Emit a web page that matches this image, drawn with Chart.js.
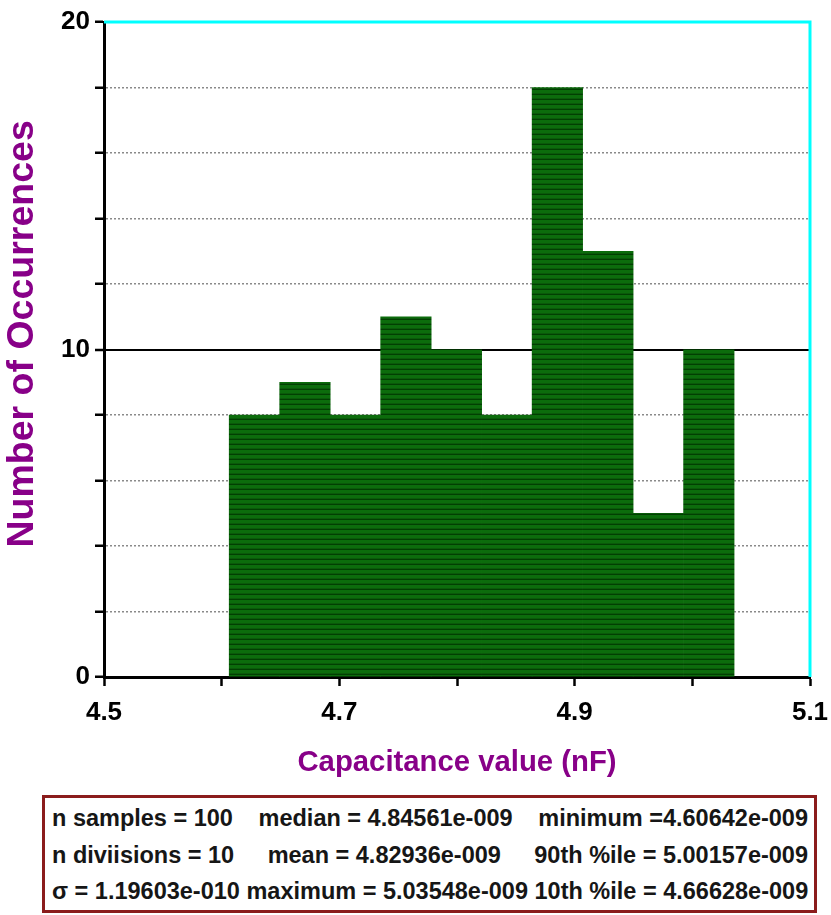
<!DOCTYPE html>
<html>
<head>
<meta charset="utf-8">
<script src="https://cdn.jsdelivr.net/npm/chart.js@4.4.1/dist/chart.umd.min.js"></script>
<style>
  body { margin: 0; background: #ffffff; }
  #wrap { position: relative; width: 831px; height: 915px; }
  #histChart { position: absolute; left: 0; top: 0; }
  #stats {
    position: absolute; left: 42px; top: 795px; width: 756px; height: 112px;
    border: 3px solid #8b1c1c; box-sizing: content-box;
    font-family: "Liberation Sans", Arial, sans-serif; font-weight: bold; font-size: 23.5px;
    color: #161616; padding: 0 6px 0 7px;
  }
  .row { display: flex; justify-content: space-between; white-space: pre; height: 36.5px; line-height: 36.5px; }
  .row:first-child { margin-top: 2px; }
</style>
</head>
<body>
<div id="wrap">
  <canvas id="histChart" width="831" height="790"></canvas>
  <div id="stats">
    <div class="row"><span>n samples = 100</span><span>median = 4.84561e-009</span><span>minimum =4.60642e-009</span></div>
    <div class="row"><span>n diviisions = 10</span><span>mean = 4.82936e-009</span><span>90th %ile = 5.00157e-009</span></div>
    <div class="row"><span>σ = 1.19603e-010 maximum = 5.03548e-009 10th %ile = 4.66628e-009</span></div>
  </div>
</div>
<script>
// ヒストグラムのデータ
var minValue = 4.60642;   // nF
var maxValue = 5.03548;   // nF
var nDivisions = 10;
var counts = [8, 9, 8, 11, 10, 8, 18, 13, 5, 10];
var xTickLabels = ['4.5', '4.7', '4.9', '5.1'];
var yTickLabels = ['0', '10', '20'];

// 各ビンの中心
var binWidth = (maxValue - minValue) / nDivisions;
var histData = [];
for (var i = 0; i < counts.length; i++) {
    histData.push({ x: minValue + (i + 0.5) * binWidth, y: counts[i] });
}

// バーの横縞模様
function makeStripe() {
    var c = document.createElement('canvas');
    c.width = 4;
    c.height = 5;
    var g = c.getContext('2d');
    g.fillStyle = '#0c6c0c';
    g.fillRect(0, 0, 4, 5);
    g.fillStyle = '#023f02';
    g.fillRect(0, 4, 4, 1);
    g.fillStyle = '#0a5a0a';
    g.fillRect(0, 3, 4, 1);
    return document.getElementById('histChart').getContext('2d').createPattern(c, 'repeat');
}

// 上と右の枠線
var framePlugin = {
    id: 'frame',
    afterDraw: function (chart) {
        var a = chart.chartArea;
        var ctx = chart.ctx;
        ctx.save();
        ctx.strokeStyle = '#00ffff';
        ctx.lineWidth = 3;
        ctx.beginPath();
        ctx.moveTo(a.left, a.top);
        ctx.lineTo(a.right, a.top);
        ctx.lineTo(a.right, a.bottom);
        ctx.stroke();
        ctx.restore();
    }
};

var purple = '#880088';
var fontFamily = '"Liberation Sans", Arial, sans-serif';

var config = {
    type: 'bar',
    data: {
        datasets: [{
            data: histData,
            backgroundColor: makeStripe(),
            borderWidth: 0,
            barPercentage: 1,
            categoryPercentage: 1,
            grouped: false
        }]
    },
    options: {
        responsive: false,
        animation: false,
        devicePixelRatio: 1,
        layout: { padding: { top: 22, right: 21, left: 0, bottom: 0 } },
        plugins: {
            legend: { display: false },
            tooltip: { enabled: false }
        },
        scales: {
            x: {
                type: 'linear',
                min: 4.5,
                max: 5.1,
                offset: false,
                afterFit: function (scale) {
                    scale.height = 790 - 677;
                    scale.paddingLeft = 0;
                    scale.paddingRight = 0;
                },
                ticks: {
                    stepSize: 0.1,
                    padding: 11,
                    color: '#000000',
                    font: { family: fontFamily, size: 26, weight: 'bold' },
                    maxRotation: 0,
                    autoSkip: false,
                    callback: function (v) {
                        var s = v.toFixed(1);
                        return xTickLabels.indexOf(s) >= 0 ? s : '';
                    }
                },
                grid: {
                    offset: false,
                    drawOnChartArea: false,
                    tickLength: 9,
                    tickColor: '#000000',
                    tickWidth: 2.5
                },
                border: { color: '#000000', width: 3 },
                title: {
                    display: true,
                    text: 'Capacitance value (nF)',
                    color: purple,
                    font: { family: fontFamily, size: 29.3, weight: 'bold' },
                    padding: { top: 0, bottom: 10 }
                }
            },
            y: {
                min: 0,
                max: 20,
                afterFit: function (scale) { scale.width = 104; },
                ticks: {
                    stepSize: 2,
                    padding: 5,
                    color: '#000000',
                    font: { family: fontFamily, size: 26, weight: 'bold' },
                    callback: function (v) {
                        var s = String(v);
                        return yTickLabels.indexOf(s) >= 0 ? s : '';
                    }
                },
                grid: {
                    color: function (ctx) {
                        var v = ctx.tick ? ctx.tick.value : 0;
                        if (v == 0 || v == 20) return 'rgba(0,0,0,0)';
                        if (v == 10) return '#000000';
                        return '#8a8a8a';
                    },
                    lineWidth: function (ctx) {
                        var v = ctx.tick ? ctx.tick.value : 0;
                        return v == 10 ? 2 : 1.5;
                    },
                    tickLength: 9,
                    tickColor: '#000000',
                    tickWidth: 2.5
                },
                border: {
                    color: '#000000',
                    width: 3,
                    dash: function (ctx) {
                        var v = ctx.tick ? ctx.tick.value : 0;
                        return v == 10 ? [] : [2, 2];
                    }
                },
                title: {
                    display: true,
                    // 先頭の空白でタイトルを少し上へずらす
                    text: '   Number of Occurrences',
                    color: purple,
                    font: { family: fontFamily, size: 37.5, weight: 'bold' },
                    padding: 0
                }
            }
        }
    },
    plugins: [framePlugin]
};

//chart図を作成する
var histChart = new Chart(document.getElementById('histChart'), config);
</script>
</body>
</html>
